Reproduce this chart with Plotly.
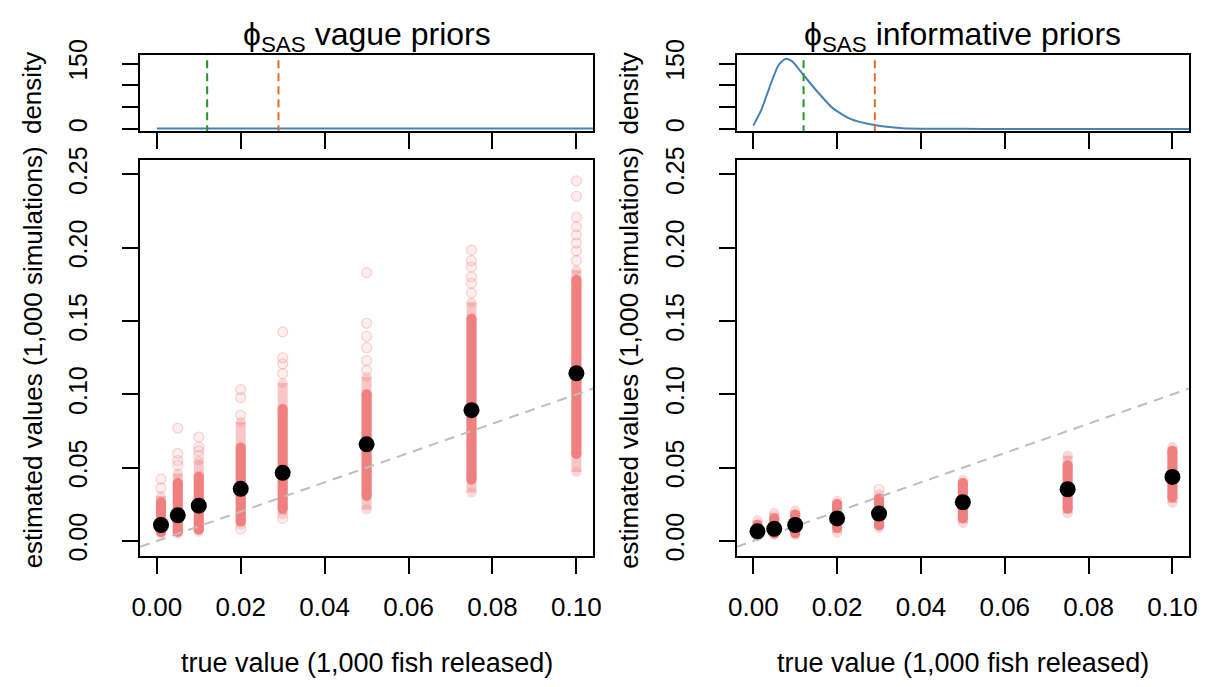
import plotly.graph_objects as go

# ---------------- data ----------------
true_vals = [0.001, 0.005, 0.01, 0.02, 0.03, 0.05, 0.075, 0.1]

# vague priors (left)
vague_mean = [0.0109, 0.0175, 0.0241, 0.0356, 0.0465, 0.0659, 0.0892, 0.1144]
vague_core_lo = [0.0060, 0.0062, 0.0077, 0.0132, 0.0220, 0.0307, 0.0417, 0.0593]
vague_core_hi = [0.0264, 0.0395, 0.0439, 0.0637, 0.0900, 0.1000, 0.1516, 0.1780]
vague_fade_lo = [0.0050, 0.0048, 0.0061, 0.0110, 0.0180, 0.0215, 0.0330, 0.0470]
vague_fade_hi = [0.0307, 0.0461, 0.0549, 0.0813, 0.1077, 0.1120, 0.1626, 0.1846]
vague_outliers = [
    [0.0422, 0.0362],
    [0.0769, 0.0597, 0.0549, 0.0516],
    [0.0709, 0.0641, 0.0615, 0.0582],
    [0.1032, 0.0978, 0.0857, 0.0083],
    [0.1426, 0.1250, 0.1208, 0.1142, 0.0154],
    [0.1830, 0.1485, 0.1395, 0.1318, 0.1230, 0.1164],
    [0.1984, 0.1912, 0.1868, 0.1802, 0.1757, 0.1692],
    [0.2456, 0.2351, 0.2208, 0.2142, 0.2087, 0.2032, 0.1978, 0.1912],
]

# informative priors (right)
inf_mean = [0.0066, 0.0083, 0.0109, 0.0154, 0.0187, 0.0264, 0.0353, 0.0437]
inf_core_lo = [0.0038, 0.0050, 0.0052, 0.0088, 0.0105, 0.0154, 0.0220, 0.0297]
inf_core_hi = [0.0110, 0.0154, 0.0180, 0.0252, 0.0290, 0.0395, 0.0516, 0.0615]
inf_fade_lo = [0.0030, 0.0040, 0.0040, 0.0055, 0.0088, 0.0121, 0.0187, 0.0259]
inf_fade_hi = [0.0142, 0.0193, 0.0208, 0.0274, 0.0318, 0.0417, 0.0582, 0.0641]
inf_outliers = [[], [], [], [], [0.0351], [], [], []]

# prior densities (top panels)
vague_dens_x = [0.0, 0.02, 0.04, 0.06, 0.08, 0.10, 0.104]
vague_dens_y = [1, 1, 1, 1, 1, 1, 1]
inf_dens_x = [0.0, 0.00195, 0.0039, 0.0059, 0.0070, 0.0078, 0.0086, 0.0094, 0.0118, 0.0150,
              0.0189, 0.0230, 0.0289, 0.0356, 0.0403, 0.05, 0.06, 0.08, 0.104]
inf_dens_y = [7.6, 44.5, 96.4, 144.5, 157.0, 161.6, 159.5, 154.3, 126.3, 89.0,
              48.5, 23.8, 8.9, 1.6, 0.5, 0.2, 0.1, 0.0, 0.0]
green_line = 0.012
orange_line = 0.029

x_ticks = [0.0, 0.02, 0.04, 0.06, 0.08, 0.10]
x_ticktext = ["0.00", "0.02", "0.04", "0.06", "0.08", "0.10"]
y_ticks = [0.0, 0.05, 0.10, 0.15, 0.20, 0.25]
y_ticktext = ["0.00", "0.05", "0.10", "0.15", "0.20", "0.25"]
d_ticks = [0, 150]
d_ticktext = ["0", "150"]
d_minor_step = 50

titles = ["ϕ<sub>SAS</sub> vague priors", "ϕ<sub>SAS</sub> informative priors"]
x_title = "true value (1,000 fish released)"
y_title = "estimated values (1,000 simulations)"
d_title = "density"

# ---------------- layout helpers ----------------
W, H = 1211, 687
FONT = "Liberation Sans, Arial, sans-serif"
PINK = "rgb(240,128,128)"


def fx(p):
    return p / W


def fy(p):
    return 1 - p / H


panels_x = [(133, 593), (738.5, 1198)]
main_y = (148.5, 557.5)
dens_y = (40.7, 119.3)

fig = go.Figure()

datasets = [
    (vague_mean, vague_core_lo, vague_core_hi, vague_fade_lo, vague_fade_hi, vague_outliers,
     vague_dens_x, vague_dens_y),
    (inf_mean, inf_core_lo, inf_core_hi, inf_fade_lo, inf_fade_hi, inf_outliers,
     inf_dens_x, inf_dens_y),
]

for i, (mean, clo, chi, flo, fhi, outs, dx, dy) in enumerate(datasets):
    xm = "x" if i == 0 else "x3"
    ym = "y" if i == 0 else "y3"
    xd = "x2" if i == 0 else "x4"
    yd = "y2" if i == 0 else "y4"

    # faint isolated simulation estimates
    ox, oy = [], []
    for tv, lst in zip(true_vals, outs):
        for v in lst:
            ox.append(tv)
            oy.append(v)
    fig.add_trace(go.Scatter(x=ox, y=oy, mode="markers", xaxis=xm, yaxis=ym,
                             marker=dict(size=10, color="rgba(240,128,128,0.13)",
                                         line=dict(width=1.2, color="rgba(240,128,128,0.32)")),
                             hoverinfo="skip"))
    # fading range and solid core of the overlapping estimates
    for tv, a, b, c, d in zip(true_vals, flo, fhi, clo, chi):
        fig.add_trace(go.Scatter(x=[tv, tv], y=[a, b], mode="lines+markers", xaxis=xm, yaxis=ym,
                                 line=dict(width=10, color="rgba(240,128,128,0.45)"),
                                 marker=dict(size=10, color="rgba(240,128,128,0.30)",
                                             line=dict(width=0)),
                                 hoverinfo="skip"))
        fig.add_trace(go.Scatter(x=[tv, tv], y=[c, d], mode="lines+markers", xaxis=xm, yaxis=ym,
                                 line=dict(width=10, color=PINK),
                                 marker=dict(size=10, color=PINK, line=dict(width=0)),
                                 hoverinfo="skip"))
    # 1:1 reference line
    fig.add_trace(go.Scatter(x=[-0.004, 0.104], y=[-0.004, 0.104], mode="lines",
                             xaxis=xm, yaxis=ym,
                             line=dict(color="rgb(190,190,190)", width=2, dash="10px,7px"),
                             hoverinfo="skip"))
    # means
    fig.add_trace(go.Scatter(x=true_vals, y=mean, mode="markers", xaxis=xm, yaxis=ym,
                             marker=dict(size=16, color="black"), hoverinfo="skip"))

    # prior density
    fig.add_trace(go.Scatter(x=dx, y=dy, mode="lines", xaxis=xd, yaxis=yd,
                             line=dict(color="rgb(70,130,180)", width=2, shape="spline",
                                       smoothing=0.6),
                             hoverinfo="skip"))
    for xv, col in [(green_line, "rgb(34,150,34)"), (orange_line, "rgb(230,110,30)")]:
        fig.add_trace(go.Scatter(x=[xv, xv], y=[-10, 200], mode="lines", xaxis=xd, yaxis=yd,
                                 line=dict(color=col, width=2, dash="8px,5px"),
                                 hoverinfo="skip"))

axis_common = dict(showline=True, mirror=True, linecolor="black", linewidth=2,
                   ticks="outside", ticklen=16, tickwidth=2, tickcolor="black",
                   showgrid=False, zeroline=False,
                   tickfont=dict(family=FONT, size=25, color="black"))

layout = dict(width=W, height=H, autosize=False, showlegend=False,
              margin=dict(l=0, r=0, t=0, b=0),
              paper_bgcolor="white", plot_bgcolor="white",
              font=dict(family=FONT, color="black"))

for i, (x0, x1) in enumerate(panels_x):
    n_main = 1 + 2 * i
    n_dens = 2 + 2 * i
    xk = "xaxis" if n_main == 1 else f"xaxis{n_main}"
    yk = "yaxis" if n_main == 1 else f"yaxis{n_main}"
    layout[xk] = dict(axis_common, domain=[fx(x0), fx(x1)], range=[-0.004, 0.104],
                      tickvals=x_ticks, ticktext=x_ticktext,
                      anchor=("y" if n_main == 1 else f"y{n_main}"),
                      ticklabelstandoff=11,
                      tickfont=dict(family=FONT, size=26, color="black"))
    layout[yk] = dict(axis_common, domain=[fy(main_y[1]), fy(main_y[0])], range=[-0.01, 0.26],
                      tickvals=y_ticks, ticktext=y_ticktext, tickangle=-90,
                      anchor=("x" if n_main == 1 else f"x{n_main}"), ticklabelstandoff=25)
    layout[f"xaxis{n_dens}"] = dict(axis_common, domain=[fx(x0), fx(x1)], range=[-0.004, 0.104],
                                    tickvals=x_ticks, showticklabels=False, anchor=f"y{n_dens}")
    layout[f"yaxis{n_dens}"] = dict(axis_common, domain=[fy(dens_y[1]), fy(dens_y[0])],
                                    range=[-5.8, 169.1], tickvals=d_ticks, ticktext=d_ticktext,
                                    tickangle=-90, anchor=f"x{n_dens}", ticklabelstandoff=25,
                                    minor=dict(tick0=0, dtick=d_minor_step, ticks="outside",
                                               ticklen=16, tickwidth=2, tickcolor="black",
                                               showgrid=False))

annotations = []
for i, (x0, x1) in enumerate(panels_x):
    cx = (x0 + x1) / 2
    annotations.append(dict(text=titles[i], x=fx(cx), y=fy(21), xref="paper", yref="paper",
                            showarrow=False, xanchor="center", yanchor="middle",
                            font=dict(family=FONT, size=32, color="black")))
    annotations.append(dict(text=x_title, x=fx(cx), y=fy(668), xref="paper", yref="paper",
                            showarrow=False, xanchor="center", yanchor="middle",
                            font=dict(family=FONT, size=27, color="black")))
    annotations.append(dict(text=y_title, x=fx(x0 - 109), y=fy((main_y[0] + main_y[1]) / 2),
                            xref="paper", yref="paper", showarrow=False, textangle=-90,
                            xanchor="center", yanchor="middle",
                            font=dict(family=FONT, size=26, color="black")))
    annotations.append(dict(text=d_title, x=fx(x0 - 109), y=fy((dens_y[0] + dens_y[1]) / 2),
                            xref="paper", yref="paper", showarrow=False, textangle=-90,
                            xanchor="center", yanchor="middle",
                            font=dict(family=FONT, size=26, color="black")))
layout["annotations"] = annotations

fig.update_layout(**layout)
fig.write_html("out.html")
